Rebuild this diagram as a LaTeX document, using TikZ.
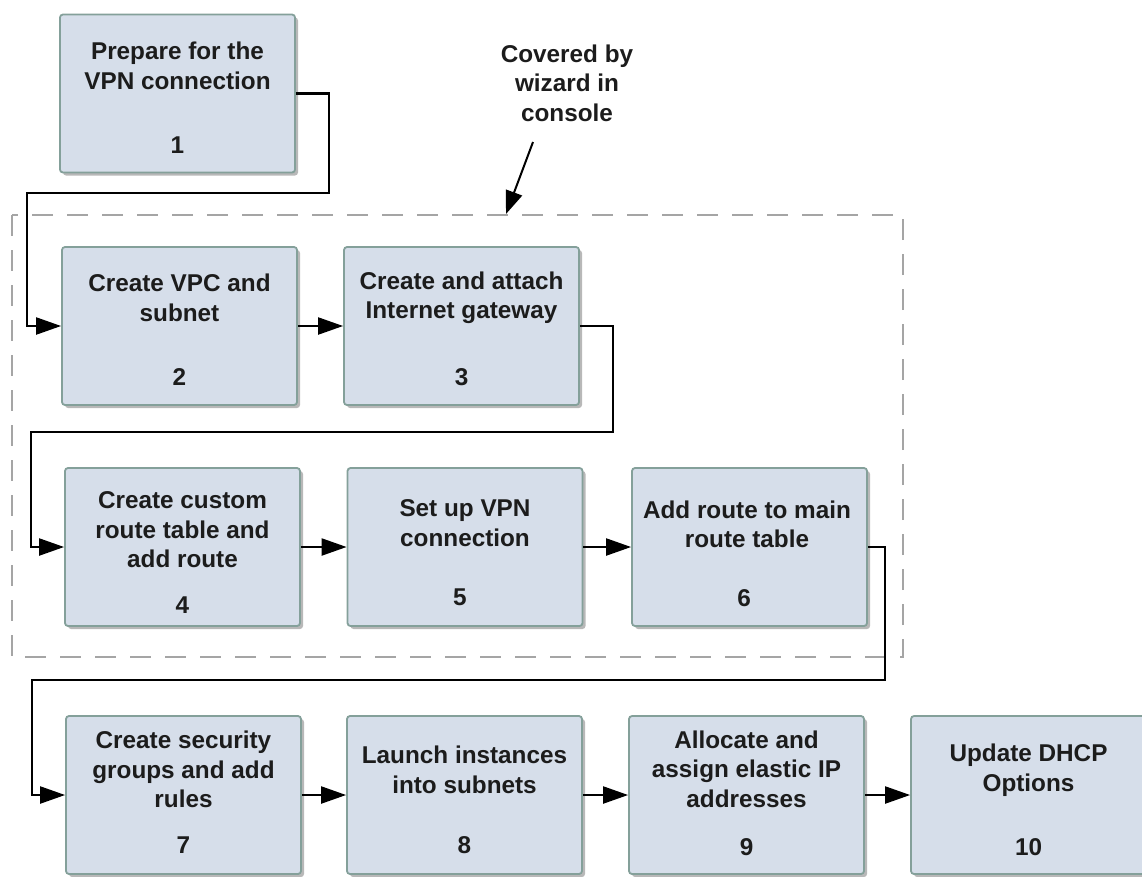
\documentclass[tikz,border=0pt]{standalone}
\usepackage{fontspec}
\setmainfont{Liberation Sans}
\usetikzlibrary{arrows.meta,shadows}

\definecolor{stepfill}{RGB}{214,222,234}
\definecolor{stepedge}{RGB}{132,160,154}
\definecolor{framegray}{RGB}{165,165,165}
\definecolor{ink}{RGB}{28,28,28}

\begin{document}
\begin{tikzpicture}[x=1pt,y=-1pt,
  stepbox/.style={draw=stepedge, line width=1.8pt, fill=stepfill,
    rounded corners=3pt, minimum width=235pt, minimum height=158pt,
    inner sep=0pt,
    drop shadow={shadow xshift=3pt, shadow yshift=-3pt, fill=black, opacity=0.28}},
  steptitle/.style={font=\fontsize{24.3}{29.5}\selectfont\bfseries, text=ink,
    align=center, inner sep=0pt},
  stepnum/.style={font=\fontsize{24.3}{29.5}\selectfont\bfseries, text=ink,
    inner sep=0pt},
  conn/.style={draw=black, line width=2.2pt,
    -{Triangle[length=25pt,width=17pt]}},
]
\useasboundingbox (0,0) rectangle (1142,876);

% region handled by the console wizard
\draw[framegray, line width=2.5pt, dash pattern=on 21pt off 14pt]
  (12,215) rectangle (903,657);

% step boxes
\node[stepbox] (b1)  at (177.5,93.5) {};
\node[stepbox] (b2)  at (179.5,326) {};
\node[stepbox] (b3)  at (461.5,326) {};
\node[stepbox] (b4)  at (182.5,547) {};
\node[stepbox] (b5)  at (465,547) {};
\node[stepbox] (b6)  at (749.5,547) {};
\node[stepbox] (b7)  at (183.5,795) {};
\node[stepbox] (b8)  at (464.5,795) {};
\node[stepbox] (b9)  at (746.5,795) {};
\node[stepbox] (b10) at (1028.5,795) {};

% step titles
\node[steptitle] (t1)  at (177.5,66)  {Prepare for the\\VPN connection};
\node[steptitle] (t2)  at (179.5,298) {Create VPC and\\subnet};
\node[steptitle] (t3)  at (461.5,298) {Create and attach\\Internet gateway};
\node[steptitle] (t4)  at (182.5,530) {Create custom\\route table and\\add route};
\node[steptitle] (t5)  at (465,523)   {Set up VPN\\connection};
\node[steptitle] (t6)  at (747,524.5) {Add route to main\\route table};
\node[steptitle] (t7)  at (183.5,769.5) {Create security\\groups and add\\rules};
\node[steptitle] (t8)  at (464.5,770) {Launch instances\\into subnets};
\node[steptitle] (t9)  at (746.5,769) {Allocate and\\assign elastic IP\\addresses};
\node[steptitle] (t10) at (1028.5,770) {Update DHCP\\Options};

% step numbers
\node[stepnum] (n1)  at (177.5,145) {1};
\node[stepnum] (n2)  at (179.5,377) {2};
\node[stepnum] (n3)  at (461.5,377) {3};
\node[stepnum] (n4)  at (182.5,605) {4};
\node[stepnum] (n5)  at (460,597)   {5};
\node[stepnum] (n6)  at (744,598)   {6};
\node[stepnum] (n7)  at (183.5,845) {7};
\node[stepnum] (n8)  at (464.5,845) {8};
\node[stepnum] (n9)  at (746.5,847) {9};
\node[stepnum] (n10) at (1028.5,847) {10};

% flow between steps
\draw[conn] (b1.east) -| (329,193) -| (b2.west -| 27,0) -- (b2.west);
\draw[conn] (b2.east) -- (b3.west);
\draw[conn] (b3.east) -| (613,432) -| (b4.west -| 31,0) -- (b4.west);
\draw[conn] (b4.east) -- (b5.west);
\draw[conn] (b5.east) -- (b6.west);
\draw[conn] (b6.east) -| (885,680) -| (b7.west -| 32,0) -- (b7.west);
\draw[conn] (b7.east) -- (b8.west);
\draw[conn] (b8.east) -- (b9.west);
\draw[conn] (b9.east) -- (b10.west);

% annotation
\node[steptitle] (note) at (567,83) {Covered by\\wizard in\\console};
\coordinate (notetail) at (533,142);
\coordinate (notetip) at (506,214);
\draw[draw=black, line width=2pt, -{Triangle[length=23pt,width=17pt]}]
  (notetail) -- (notetip);
\end{tikzpicture}
\end{document}
